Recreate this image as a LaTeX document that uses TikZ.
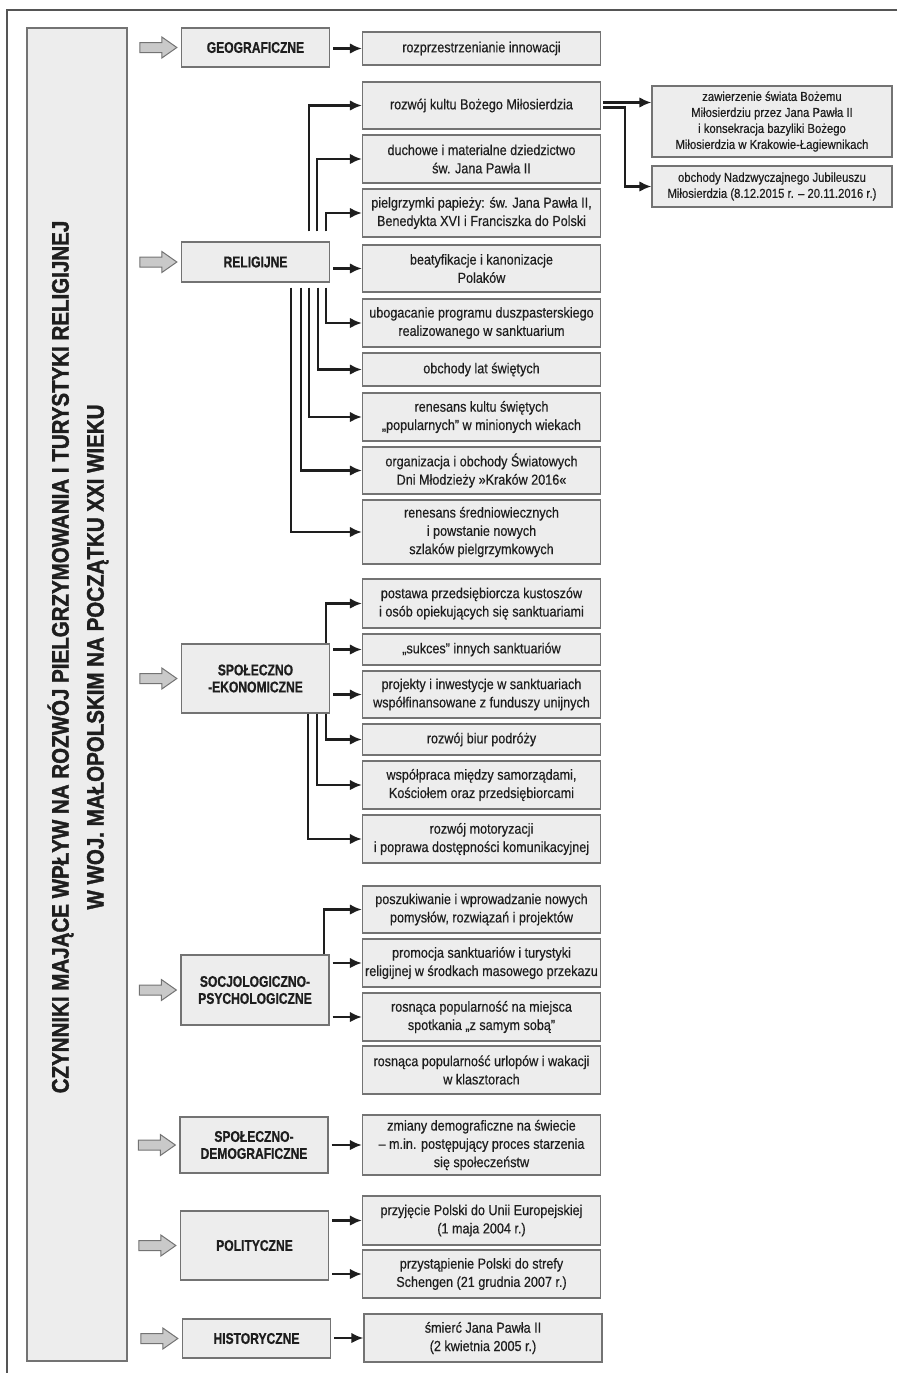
\documentclass[tikz,border=0pt]{standalone}
\usepackage{fontspec}
\setmainfont[FakeStretch=0.87,FakeBold=0.4]{Liberation Sans}
\newfontfamily\labfont[FakeStretch=0.78,FakeBold=0.8]{Liberation Sans Bold}
\newfontfamily\headfont[FakeStretch=0.855,FakeBold=1.5]{Liberation Sans Bold}
\usepackage{xcolor}
\usetikzlibrary{positioning,calc,arrows.meta}
\definecolor{boxfill}{HTML}{EDEDED}
\definecolor{boxline}{HTML}{737373}
\definecolor{arrfill}{HTML}{C9C9C9}
\definecolor{framecol}{HTML}{555555}
\definecolor{txt}{HTML}{1E1E1E}

\begin{document}
\begin{tikzpicture}[x=1pt, y=-1pt,
    box/.style={draw=boxline, fill=boxfill, line width=1.3pt, minimum width=238pt, inner sep=1pt, align=center, text=txt, font=\fontsize{14.5}{18.3}\selectfont},
    smallbox/.style={box, minimum width=240pt, font=\fontsize{13}{16}\selectfont},
    cat/.style={draw=boxline, fill=boxfill, line width=1.3pt, minimum width=148pt, align=center, text=txt, font=\labfont\fontsize{15.5}{17}\selectfont},
    conn/.style={-{Latex[length=12pt,width=10.5pt]}, line width=2.1pt, draw=txt},
    hollow/.style={draw=boxline, fill=arrfill, line width=1pt, line join=miter}]
    \useasboundingbox (0,0) rectangle (897,1373);

    % frame and title
    \draw[framecol, line width=2pt] (897,10) -- (7,10) -- (7,1373);
    \node[draw=boxline, fill=boxfill, line width=1.3pt, minimum width=100pt, minimum height=1333pt] (ttl) at (77,694.5) {};
    \node[rotate=90, align=center, text=txt, font=\headfont\fontsize{24}{35}\selectfont] (head) at (78,657)
        {CZYNNIKI MAJĄCE WPŁYW NA ROZWÓJ PIELGRZYMOWANIA I TURYSTYKI RELIGIJNEJ\\W WOJ. MAŁOPOLSKIM NA POCZĄTKU XXI WIEKU};

    % categories
    \node[cat, minimum height=39pt] (geo) at (255.5,47.5) {GEOGRAFICZNE};
    \node[cat, minimum height=40pt] (rel) at (255.5,262) {RELIGIJNE};
    \node[cat, minimum height=69pt] (eco) at (255.5,678.5) {SPOŁECZNO\\-EKONOMICZNE};
    \node[cat, minimum height=70pt] (psy) at (255,990) {SOCJOLOGICZNO-\\PSYCHOLOGICZNE};
    \node[cat, minimum height=56pt] (dem) at (254,1145) {SPOŁECZNO-\\DEMOGRAFICZNE};
    \node[cat, minimum height=69pt] (pol) at (254.5,1245.5) {POLITYCZNE};
    \node[cat, minimum height=39pt] (his) at (256.5,1338.5) {HISTORYCZNE};

    \foreach \c in {geo,rel,eco,psy,dem,pol,his}
        \draw[hollow] ($(\c.west)+(-41,-5)$) -- ++(22,0) -- ++(0,-5.5) -- ++(15,10.5) -- ++(-15,10.5) -- ++(0,-5.5) -- ++(-22,0) -- cycle;

    % factors
    \node[box, minimum height=33pt] (r1) at (481.5,48.5) {rozprzestrzenianie innowacji};
    \node[box, minimum height=47pt] (r2) at (481.5,105.5) {rozwój kultu Bożego Miłosierdzia};
    \node[box, minimum height=48pt] (r3) at (481.5,159) {duchowe i materialne dziedzictwo\\św. Jana Pawła II};
    \node[box, minimum height=48pt] (r4) at (481.5,213) {pielgrzymki papieży: św. Jana Pawła II,\\Benedykta XVI i Franciszka do Polski};
    \node[box, minimum height=47pt] (r5) at (481.5,268.5) {beatyfikacje i kanonizacje\\Polaków};
    \node[box, minimum height=48pt] (r6) at (481.5,323) {ubogacanie programu duszpasterskiego\\realizowanego w sanktuarium};
    \node[box, minimum height=33pt] (r7) at (481.5,369.5) {obchody lat świętych};
    \node[box, minimum height=48pt] (r8) at (481.5,417) {renesans kultu świętych\\„popularnych” w minionych wiekach};
    \node[box, minimum height=47pt] (r9) at (481.5,470.5) {organizacja i obchody Światowych\\Dni Młodzieży »Kraków 2016«};
    \node[box, minimum height=64pt] (r10) at (481.5,532) {renesans średniowiecznych\\i powstanie nowych\\szlaków pielgrzymkowych};

    \node[smallbox, minimum height=71pt] (jp) at (772,121.5) {zawierzenie świata Bożemu\\Miłosierdziu przez Jana Pawła II\\i konsekracja bazyliki Bożego\\Miłosierdzia w Krakowie-Łagiewnikach};
    \node[smallbox, minimum height=41pt] (jub) at (772,186.5) {obchody Nadzwyczajnego Jubileuszu\\Miłosierdzia (8.12.2015 r. – 20.11.2016 r.)};

    \node[box, minimum height=49pt] (s1) at (481.5,603.5) {postawa przedsiębiorcza kustoszów\\i osób opiekujących się sanktuariami};
    \node[box, minimum height=31pt] (s2) at (481.5,649.5) {„sukces” innych sanktuariów};
    \node[box, minimum height=47pt] (s3) at (481.5,694.5) {projekty i inwestycje w sanktuariach\\współfinansowane z funduszy unijnych};
    \node[box, minimum height=31pt] (s4) at (481.5,739.5) {rozwój biur podróży};
    \node[box, minimum height=48pt] (s5) at (481.5,785) {współpraca między samorządami,\\Kościołem oraz przedsiębiorcami};
    \node[box, minimum height=48pt] (s6) at (481.5,839) {rozwój motoryzacji\\i poprawa dostępności komunikacyjnej};

    \node[box, minimum height=47pt] (p1) at (481.5,909.5) {poszukiwanie i wprowadzanie nowych\\pomysłów, rozwiązań i projektów};
    \node[box, minimum height=48pt] (p2) at (481.5,963) {promocja sanktuariów i turystyki\\religijnej w środkach masowego przekazu};
    \node[box, minimum height=48pt] (p3) at (481.5,1017) {rosnąca popularność na miejsca\\spotkania „z samym sobą”};
    \node[box, minimum height=48pt] (p4) at (481.5,1070) {rosnąca popularność urlopów i wakacji\\w klasztorach};

    \node[box, minimum height=60pt] (d1) at (481.5,1145) {zmiany demograficzne na świecie\\– m.in. postępujący proces starzenia\\się społeczeństw};
    \node[box, minimum height=49pt] (o1) at (481.5,1220.5) {przyjęcie Polski do Unii Europejskiej\\(1 maja 2004 r.)};
    \node[box, minimum height=48pt] (o2) at (481.5,1274) {przystąpienie Polski do strefy\\Schengen (21 grudnia 2007 r.)};
    \node[box, minimum height=48pt] (h1) at (483,1338) {śmierć Jana Pawła II\\(2 kwietnia 2005 r.)};

    % connectors
    \draw[conn, shorten <=3pt] (geo.east |- r1.west) -- (r1.west);

    \draw[conn] ($(rel.north east)+(-21,-10)$) |- (r2.west);
    \draw[conn] ($(rel.north east)+(-13,-10)$) |- (r3.west);
    \draw[conn] ($(rel.north east)+(-4,-10)$) |- (r4.west);
    \draw[conn, shorten <=3pt] (rel.east |- r5.west) -- (r5.west);
    \foreach \dx/\t in {4/r6,12/r7,21/r8,29/r9,39/r10}
        \draw[conn] ($(rel.south east)+(-\dx,5)$) |- (\t.west);

    \coordinate (r2a) at ($(r2.east)+(2,-3)$);
    \coordinate (r2b) at ($(r2.east)+(2,2)$);
    \draw[conn] (r2a) -- (r2a -| jp.west);
    \draw[conn] (r2b) -- ++(22,0) |- (jub.west);

    \draw[conn] ($(eco.north east)+(-4,0)$) |- (s1.west);
    \draw[conn, shorten <=3pt] (eco.east |- s2.west) -- (s2.west);
    \draw[conn, shorten <=3pt] (eco.east |- s3.west) -- (s3.west);
    \foreach \dx/\t in {4/s4,13/s5,22/s6}
        \draw[conn] ($(eco.south east)+(-\dx,0)$) |- (\t.west);

    \draw[conn] ($(psy.north east)+(-6,0)$) |- (p1.west);
    \draw[conn, shorten <=3pt] (psy.east |- p2.west) -- (p2.west);
    \draw[conn, shorten <=3pt] (psy.east |- p3.west) -- (p3.west);

    \draw[conn, shorten <=3pt] (dem.east |- d1.west) -- (d1.west);
    \draw[conn, shorten <=3pt] (pol.east |- o1.west) -- (o1.west);
    \draw[conn, shorten <=3pt] (pol.east |- o2.west) -- (o2.west);
    \draw[conn, shorten <=3pt] (his.east |- h1.west) -- (h1.west);
\end{tikzpicture}
\end{document}
